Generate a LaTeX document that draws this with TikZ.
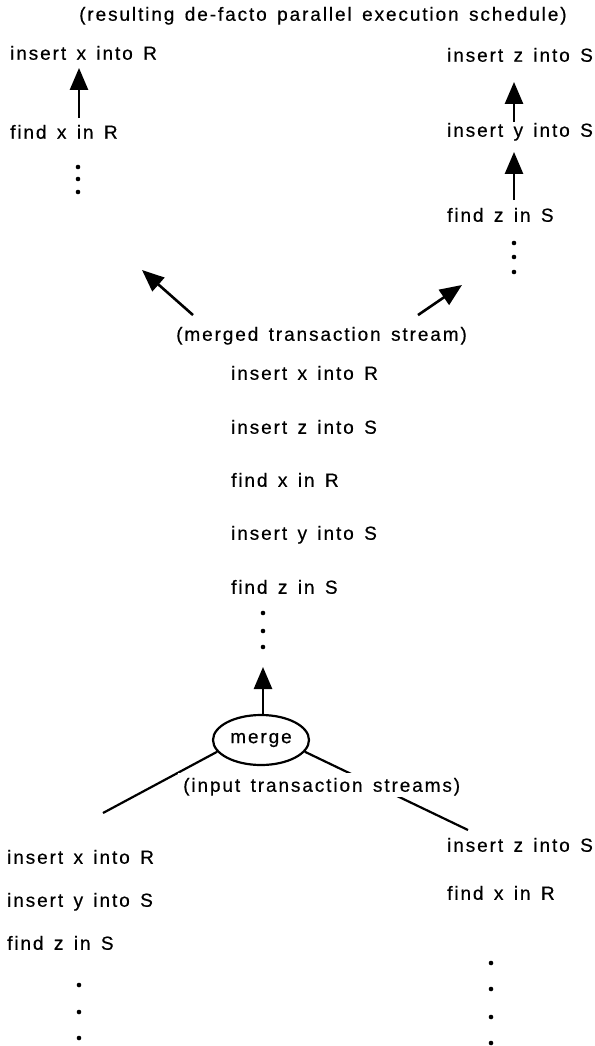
\documentclass[tikz,border=0pt]{standalone}
\usepackage{fontspec}
\setmainfont{Liberation Sans}[LetterSpace=10, WordSpace=1.45, FakeBold=0.5]
\usetikzlibrary{arrows.meta,shapes.geometric}

\begin{document}
\begin{tikzpicture}[x=1pt,y=-1pt,
    op/.style={anchor=west, inner sep=0pt, text height=13.5pt, text depth=0pt, font=\fontsize{19}{22}\selectfont},
    lbl/.style={op, inner sep=5pt, fill=white},
    arr/.style={line width=2.6pt, -{Triangle[length=22pt,width=18pt]}},
    tie/.style={line width=2.2pt},
    mergebox/.style={draw, ellipse, tie, minimum width=96pt, minimum height=50pt, inner sep=0pt, font=\fontsize{19}{22}\selectfont}]
        \useasboundingbox (0,0) rectangle (594,1046);
        % resulting schedule
        \node[op] (title) at (79,14) {(resulting de-facto parallel execution schedule)};
        \node[op] (sl1) at (10,53) {insert x into R};
        \node[op] (sl2) at (10,132) {find x in R};
        \node[op] (sr1) at (447,55) {insert z into S};
        \node[op] (sr2) at (447,130) {insert y into S};
        \node[op] (sr3) at (447,215) {find z in S};
        \coordinate (slx) at (79,0);
        \coordinate (srx) at (514,0);
        \draw[arr, shorten >=8pt, shorten <=7pt] (sl2.north -| slx) -- (sl1.south -| slx);
        \draw[arr, shorten >=20pt, shorten <=1pt] (sr2.north -| srx) -- (sr1.south -| srx);
        \draw[arr, shorten >=15pt, shorten <=8pt] (sr3.north -| srx) -- (sr2.south -| srx);
        \foreach \y in {167,179,192} \fill (78,\y) circle (2.3);
        \foreach \y in {243,257,272} \fill (514,\y) circle (2.3);
        
        % merged stream
        \node[op] (mlab) at (176,334) {(merged transaction stream)};
        \coordinate (tl) at (142,270);
        \coordinate (tr) at (462,285);
        \draw[arr] ([xshift=17pt, yshift=12pt]mlab.north west) -- (tl);
        \draw[arr] ([xshift=242pt, yshift=12pt]mlab.north west) -- (tr);
        \node[op] (mm1) at (231,373) {insert x into R};
        \node[op] (mm2) at (231,427) {insert z into S};
        \node[op] (mm3) at (231,480) {find x in R};
        \node[op] (mm4) at (231,533) {insert y into S};
        \node[op] (mm5) at (231,587) {find z in S};
        \foreach \y in {613,631,647} \fill (263,\y) circle (2.3);
        
        % merge
        \node[mergebox] (mrg) at (261,740) {merge};
        \coordinate (mtip) at (263,667);
        \draw[arr] (mrg.north -| mtip) -- (mtip);
        \coordinate (lend) at (103,813);
        \coordinate (rend) at (468,830);
        \draw[tie] (mrg.195) -- (lend);
        \draw[tie] (mrg.-15) -- (rend);
        \node[lbl] (ilab) at (178,785) {(input transaction streams)};
        
        % input streams
        \node[op] (bl1) at (7,857) {insert x into R};
        \node[op] (bl2) at (7,900) {insert y into S};
        \node[op] (bl3) at (7,943) {find z in S};
        \node[op] (br1) at (447,845) {insert z into S};
        \node[op] (br2) at (447,893) {find x in R};
        \foreach \y in {985,1012,1038} \fill (79,\y) circle (2.3);
        \foreach \y in {963,989,1017,1043} \fill (491,\y) circle (2.3);
    \end{tikzpicture}
\end{document}
